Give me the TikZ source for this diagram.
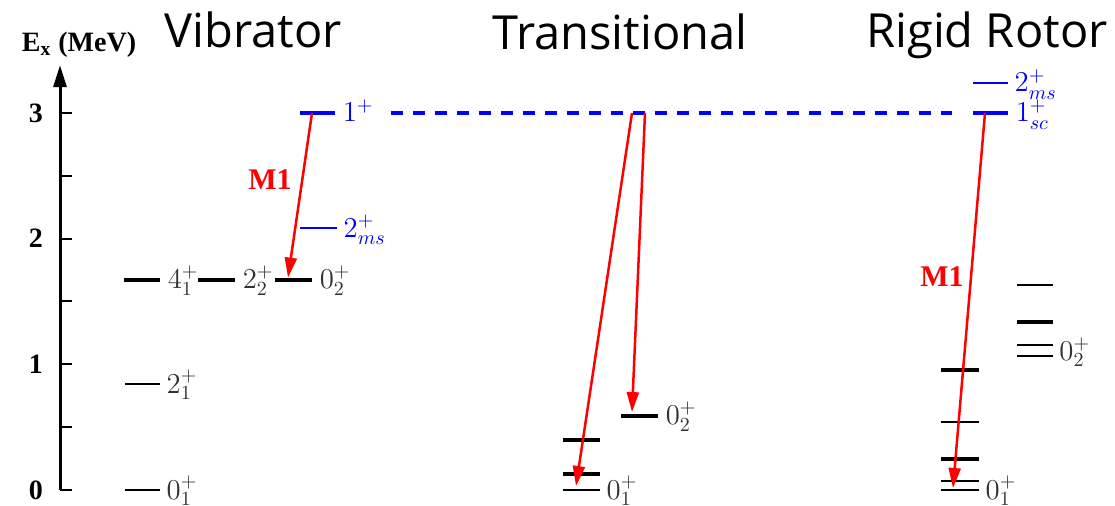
\documentclass[tikz,border=0pt]{standalone}
\usepackage{fontspec}
\usepackage{xcolor}
\usetikzlibrary{arrows.meta}
\newfontfamily\titlefont{Open Sans}
\newfontfamily\timesfont{Liberation Serif}
\definecolor{lvlgray}{RGB}{50,50,50}

\begin{document}
\begin{tikzpicture}[x=0.5pt,y=62.85pt,>={Triangle[length=10pt,width=6pt]}]
\tikzstyle{thk}=[line width=1.75pt]
\tikzstyle{thn}=[line width=0.65pt]
\tikzstyle{lab}=[anchor=base west,inner sep=0pt,xshift=3pt,yshift=-4.5pt,text=lvlgray,font=\fontsize{14.4}{16}\selectfont]
\tikzstyle{ttl}=[anchor=base,font=\titlefont\fontsize{23.5}{25}\selectfont]
\tikzstyle{m1}=[->,red,line width=1.25pt]
\tikzstyle{m1lab}=[red,font=\timesfont\bfseries\fontsize{15}{16}\selectfont]
\tikzstyle{dsh}=[blue,line width=1.75pt,dash pattern=on 6pt off 5pt]
\useasboundingbox (0,-0.1193) rectangle (1115,3.8982);
% energy axis
\draw[line width=1.5pt,-{Triangle[length=11pt,width=6.5pt]}] (60,0) -- (60,3.38);
\foreach \e in {0,0.5,...,3} \draw[line width=1pt] (60,\e) -- (72,\e);
\foreach \e in {0,1,2,3} \node[anchor=east,font=\timesfont\bfseries\fontsize{14}{15}\selectfont] (t\e) at (50,\e) {\e};
\node[anchor=base,font=\timesfont\bfseries\fontsize{14}{15}\selectfont] (ex) at (79,3.492) {E\textsubscript{x} (MeV)};
% titles
\node[ttl] (vib) at (253,3.524) {Vibrator};
\node[ttl] (tra) at (620,3.508) {Transitional};
\node[ttl] (rig) at (987,3.524) {Rigid Rotor};
% vibrator
\draw[thn] (125,0) -- (160,0) node[lab] (v01) {$0^+_1$};
\draw[thn] (125,0.843) -- (160,0.843) node[lab] (v21) {$2^+_1$};
\draw[thk] (124,1.671) -- (160,1.671) node[lab] (v41) {$4^+_1$};
\draw[thk] (198,1.671) -- (235,1.671) node[lab] (v22) {$2^+_2$};
\draw[thk] (275,1.671) -- (312,1.671) node[lab] (v02) {$0^+_2$};
\draw[thn,blue] (300,2.084) -- (337,2.084) node[lab,text=blue] (vms) {$2^+_{ms}$};
\draw[thk,blue] (300,3) -- (335,3) node[lab,text=blue] (v1p) {$1^+$};
\coordinate (vtop) at (312,3);
\coordinate (vend) at (288,1.69);
\draw[m1] (vtop) -- (vend);
\node[m1lab] (vm1) at (270,2.466) {M1};
% mixed-symmetry 1+ carried across
\coordinate (rtop) at (985,3);
\draw[dsh] ([xshift=8pt]v1p.east |- vtop) -- ([xshift=-16.5pt]rtop);
% transitional
\draw[thn] (563,0) -- (600,0) node[lab] (t01) {$0^+_1$};
\draw[thk] (563,0.127) -- (600,0.127);
\draw[thk] (563,0.398) -- (600,0.398);
\draw[thk] (621,0.589) -- (658,0.589) node[lab] (t02) {$0^+_2$};
\coordinate (ttopa) at (632,3);
\coordinate (ttopb) at (645,3);
\coordinate (tenda) at (576,0.032);
\coordinate (tendb) at (632,0.62);
\draw[m1] (ttopa) -- (tenda);
\draw[m1] (ttopb) -- (tendb);
% rigid rotor
\draw[thn,blue] (973,3.238) -- (1008,3.238) node[lab,text=blue] (rms) {$2^+_{ms}$};
\draw[thk,blue] (973,3) -- (1008,3) node[lab,text=blue] (rsc) {$1^+_{sc}$};
\draw[thk] (941,0.955) -- (979,0.955);
\draw[thn] (941,0.541) -- (979,0.541);
\draw[thk] (941,0.247) -- (979,0.247);
\draw[thn] (941,0.072) -- (979,0.072);
\draw[thn] (941,0) -- (979,0) node[lab] (r01) {$0^+_1$};
\draw[thn] (1017,1.631) -- (1053,1.631);
\draw[thk] (1017,1.336) -- (1053,1.336);
\draw[thn] (1017,1.154) -- (1053,1.154);
\draw[thn] (1017,1.066) -- (1053,1.066);
\node[lab] (r02) at (1053,1.1) {$0^+_2$};
\coordinate (rend) at (953,0.016);
\draw[m1] (rtop) -- (rend);
\node[m1lab] (rm1) at (942,1.695) {M1};
\end{tikzpicture}
\end{document}
